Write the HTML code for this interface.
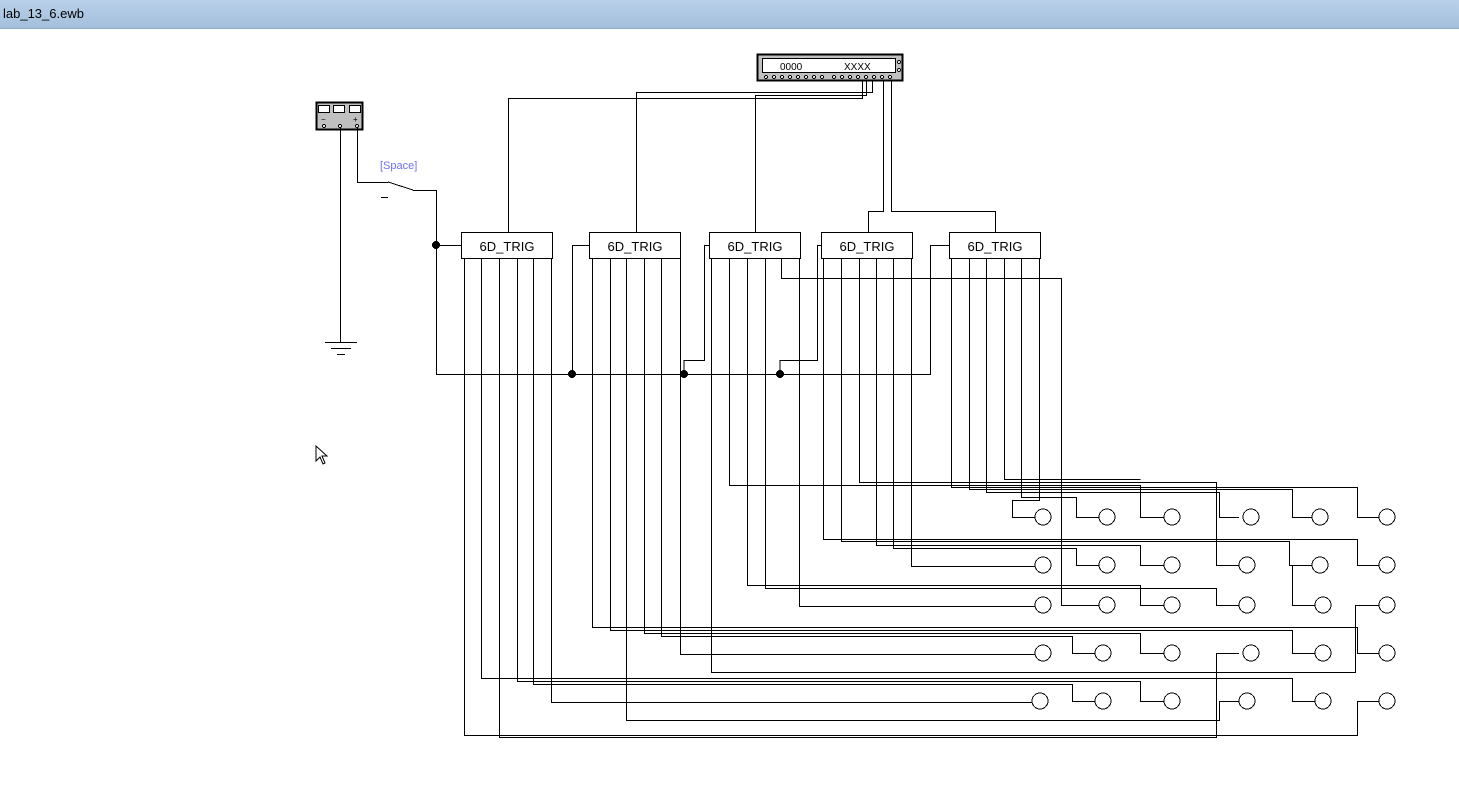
<!DOCTYPE html>
<html><head><style>
body{margin:0;width:1459px;height:808px;overflow:hidden;background:#fff;font-family:"Liberation Sans",sans-serif}
.tb{position:absolute;left:0;top:0;width:1459px;height:28px;background:linear-gradient(#b9d1ea,#a4bfdc);border-bottom:1px solid #8fa9c9}
.tb span{position:absolute;left:3px;top:6px;font-size:13px;color:#000}
svg{position:absolute;left:0;top:0}
</style></head><body>
<div class="tb"><span>lab_13_6.ewb</span></div>
<svg width="1459" height="808" viewBox="0 0 1459 808" fill="none" stroke="#000" stroke-width="1" shape-rendering="crispEdges">
<rect x="757.5" y="54.5" width="145" height="26" fill="#c0c0c0" stroke="#000" stroke-width="2"/>
<rect x="762.5" y="58.5" width="133" height="14" fill="#fff"/>
<text x="780" y="70" font-size="10" fill="#000" stroke="none" font-family="Liberation Sans">0000</text>
<text x="844" y="70" font-size="10" fill="#000" stroke="none" font-family="Liberation Sans">XXXX</text>
<g fill="#fff">
<circle cx="766" cy="77" r="1.5"/><circle cx="774" cy="77" r="1.5"/><circle cx="782" cy="77" r="1.5"/><circle cx="790" cy="77" r="1.5"/><circle cx="798" cy="77" r="1.5"/><circle cx="806" cy="77" r="1.5"/><circle cx="814" cy="77" r="1.5"/><circle cx="822" cy="77" r="1.5"/>
<circle cx="834" cy="77" r="1.5"/><circle cx="842" cy="77" r="1.5"/><circle cx="850" cy="77" r="1.5"/><circle cx="858" cy="77" r="1.5"/><circle cx="866" cy="77" r="1.5"/><circle cx="874" cy="77" r="1.5"/><circle cx="882" cy="77" r="1.5"/><circle cx="890" cy="77" r="1.5"/>
<circle cx="899" cy="62" r="1.5"/><circle cx="899" cy="70" r="1.5"/></g>
<rect x="316.5" y="102.5" width="46" height="27" fill="#c0c0c0" stroke-width="2"/>
<rect x="318.5" y="105.5" width="11" height="7" fill="#fff"/><rect x="333.5" y="105.5" width="11" height="7" fill="#fff"/><rect x="349.5" y="105.5" width="11" height="7" fill="#fff"/>
<text x="321" y="122" font-size="8" fill="#000" stroke="none">−</text><text x="353" y="122" font-size="8" fill="#000" stroke="none">+</text>
<circle cx="324" cy="126" r="1.5" fill="#fff"/><circle cx="340" cy="126" r="1.5" fill="#fff"/><circle cx="357" cy="126" r="1.5" fill="#fff"/>
<path d="M340.5 128V342M325 342.5H357M331 348.5H351M337 354.5H345"/>
<path d="M357.5 128V182.5H388M388 182L413 190M413 190.5H436.5V374.5H930.5V245.5H949M381 197.5H388"/>
<text x="380" y="169" font-size="11" fill="#7070f0" stroke="none">[Space]</text>
<path d="M436 245.5H461M572.5 374V245.5H589M684 374V360.5H704.5V245.5H709M780 374V360.5H817.5V245.5H821"/>
<circle cx="436" cy="245" r="3.5" fill="#000"/><circle cx="572" cy="374" r="3.5" fill="#000"/><circle cx="684" cy="374" r="3.5" fill="#000"/><circle cx="780" cy="374" r="3.5" fill="#000"/>
<path d="M508.5 232V98.5H862.5V81M636.5 232V92.5H872.5V81M755.5 232V95.5H866.5V81M868.5 232V211.5H883.5V81M995.5 232V211.5H891.5V81"/>
<g fill="#fff"><rect x="461.5" y="232.5" width="91" height="26"/><rect x="589.5" y="232.5" width="91" height="26"/><rect x="709.5" y="232.5" width="91" height="26"/><rect x="821.5" y="232.5" width="91" height="26"/><rect x="949.5" y="232.5" width="91" height="26"/></g>
<g font-size="13" fill="#000" stroke="none" text-anchor="middle"><text x="507" y="251">6D_TRIG</text><text x="635" y="251">6D_TRIG</text><text x="755" y="251">6D_TRIG</text><text x="867" y="251">6D_TRIG</text><text x="995" y="251">6D_TRIG</text></g>
<path d="
M464.5 258V735.5H1357.5V701.5H1379
M481.5 258V678.5H1292.5V701.5H1315
M499.5 258V737.5H1216.5V653.5H1239
M517.5 258V681.5H1140.5V701.5H1164
M533.5 258V684.5H1072.5V701.5H1095
M551.5 258V702.5H1032
M592.5 258V627.5H1357.5V653.5H1379
M610.5 258V630.5H1292.5V653.5H1315
M626.5 258V720.5H1219.5V701.5H1239
M644.5 258V633.5H1140.5V653.5H1164
M661.5 258V636.5H1072.5V653.5H1095
M680.5 258V654.5H1035
M711.5 258V672.5H1355.5V605.5H1379
M729.5 258V485.5H1140.5V517.5H1164
M747.5 258V585.5H1140.5V605.5H1164
M765.5 258V588.5H1216.5V605.5H1239
M781.5 258V278.5H1061.5V605.5H1099
M799.5 258V606.5H1035
M823.5 258V539.5H1357.5V565.5H1379
M841.5 258V541.5H1289.5V565.5H1312M1292.5 565V605.5H1315
M859.5 258V482.5H1216.5V565.5H1239
M876.5 258V545.5H1140.5V565.5H1164
M893.5 258V548.5H1076.5V565.5H1099
M911.5 258V566.5H1035
M951.5 258V487.5H1357.5V517.5H1379
M969.5 258V489.5H1292.5V517.5H1312
M986.5 258V492.5H1219.5V517.5H1239
M1004.5 258V479.5H1140.5
M1021.5 258V497.5H1076.5V517.5H1099
M1039.5 258V500.5H1012.5V517.5H1035
"/>
<g fill="#fff">
<circle cx="1043" cy="517" r="8"/><circle cx="1107" cy="517" r="8"/><circle cx="1172" cy="517" r="8"/><circle cx="1251" cy="517" r="8"/><circle cx="1320" cy="517" r="8"/><circle cx="1387" cy="517" r="8"/>
<circle cx="1043" cy="565" r="8"/><circle cx="1107" cy="565" r="8"/><circle cx="1172" cy="565" r="8"/><circle cx="1247" cy="565" r="8"/><circle cx="1320" cy="565" r="8"/><circle cx="1387" cy="565" r="8"/>
<circle cx="1043" cy="605" r="8"/><circle cx="1107" cy="605" r="8"/><circle cx="1172" cy="605" r="8"/><circle cx="1247" cy="605" r="8"/><circle cx="1323" cy="605" r="8"/><circle cx="1387" cy="605" r="8"/>
<circle cx="1043" cy="653" r="8"/><circle cx="1103" cy="653" r="8"/><circle cx="1172" cy="653" r="8"/><circle cx="1251" cy="653" r="8"/><circle cx="1323" cy="653" r="8"/><circle cx="1387" cy="653" r="8"/>
<circle cx="1040" cy="701" r="8"/><circle cx="1103" cy="701" r="8"/><circle cx="1172" cy="701" r="8"/><circle cx="1247" cy="701" r="8"/><circle cx="1323" cy="701" r="8"/><circle cx="1387" cy="701" r="8"/>
</g>
<path d="M316 446V461L320 457L323 464L325 463L322 456H327Z" fill="#fff" stroke="#000" shape-rendering="auto"/>
</svg>
</body></html>
